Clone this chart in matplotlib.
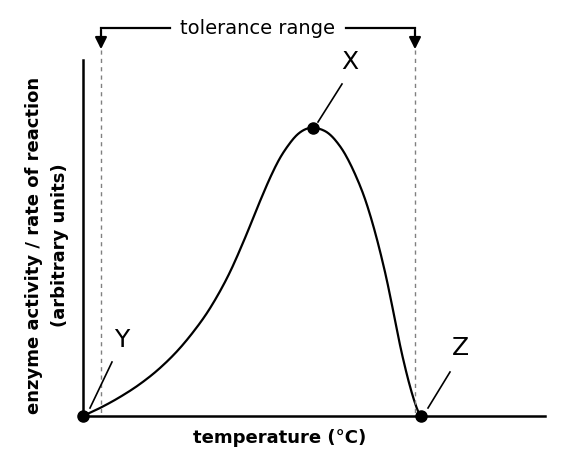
import matplotlib
matplotlib.use("Agg")
import matplotlib.pyplot as plt
import numpy as np

# curve in pixel-like units (x right, y down)
curve_x = [83, 100, 120, 140, 160, 180, 200, 215, 230, 245, 258, 270, 280, 290, 298, 306, 313, 320, 328, 336, 345, 355, 365, 375, 385, 393, 400, 406, 411, 415, 418, 421]
curve_y = [416, 408, 397, 384, 368, 348, 323, 300, 272, 238, 206, 178, 158, 143, 134, 129, 128, 129, 133, 141, 154, 174, 199, 232, 272, 310, 345, 371, 390, 403, 411, 416]
points = {"X": (313, 128), "Y": (83, 416), "Z": (421, 416)}
tol_x = [101, 415]

def smooth(xs, ys, n=12):
    P = np.column_stack([xs, ys]).astype(float)
    P = np.vstack([P[0], P, P[-1]])
    out = []
    t = np.linspace(0, 1, n, endpoint=False)[:, None]
    for i in range(1, len(P) - 2):
        p0, p1, p2, p3 = P[i-1], P[i], P[i+1], P[i+2]
        out.append(0.5 * ((2*p1) + (-p0+p2)*t + (2*p0-5*p1+4*p2-p3)*t**2 + (-p0+3*p1-3*p2+p3)*t**3))
    out.append(P[-2][None])
    out = np.vstack(out)
    return out[:, 0], out[:, 1]

fig = plt.figure(figsize=(5.76, 4.72), dpi=100)
ax = fig.add_axes([0, 0, 1, 1])
ax.set_xlim(0, 576); ax.set_ylim(472, 0); ax.axis("off")

ax.plot([83, 83], [416, 60], color="black", lw=1.8)
ax.plot([83, 545], [416, 416], color="black", lw=1.8)
sx, sy = smooth(curve_x, curve_y)
ax.plot(sx, sy, color="black", lw=1.6)
for x in tol_x:
    ax.plot([x, x], [50, 416], color="gray", lw=1, ls=(0, (3, 3)))
ax.plot([101, 170], [28, 28], color="black", lw=1.6)
ax.plot([346, 415], [28, 28], color="black", lw=1.6)
for x in tol_x:
    ax.annotate("", xy=(x, 52), xytext=(x, 27),
                arrowprops=dict(arrowstyle="-|>,head_width=0.35,head_length=0.7", color="black", lw=1.6))
ax.text(258, 29, "tolerance range", ha="center", va="center", fontsize=14)
for k, (x, y) in points.items():
    ax.plot(x, y, "o", color="black", ms=8)
ax.plot([318, 342], [122, 84], color="black", lw=1.2)
ax.plot([90, 112], [408, 362], color="black", lw=1.2)
ax.plot([428, 450], [408, 372], color="black", lw=1.2)
ax.text(350, 62, "X", ha="center", va="center", fontsize=18)
ax.text(122, 340, "Y", ha="center", va="center", fontsize=18)
ax.text(460, 348, "Z", ha="center", va="center", fontsize=18)
ax.text(280, 438, "temperature (°C)", ha="center", va="center", fontsize=13, fontweight="bold")
ax.text(34, 245, "enzyme activity / rate of reaction", rotation=90, ha="center", va="center", fontsize=13, fontweight="bold")
ax.text(60, 245, "(arbitrary units)", rotation=90, ha="center", va="center", fontsize=13, fontweight="bold")
fig.savefig("out.png", dpi=100)
